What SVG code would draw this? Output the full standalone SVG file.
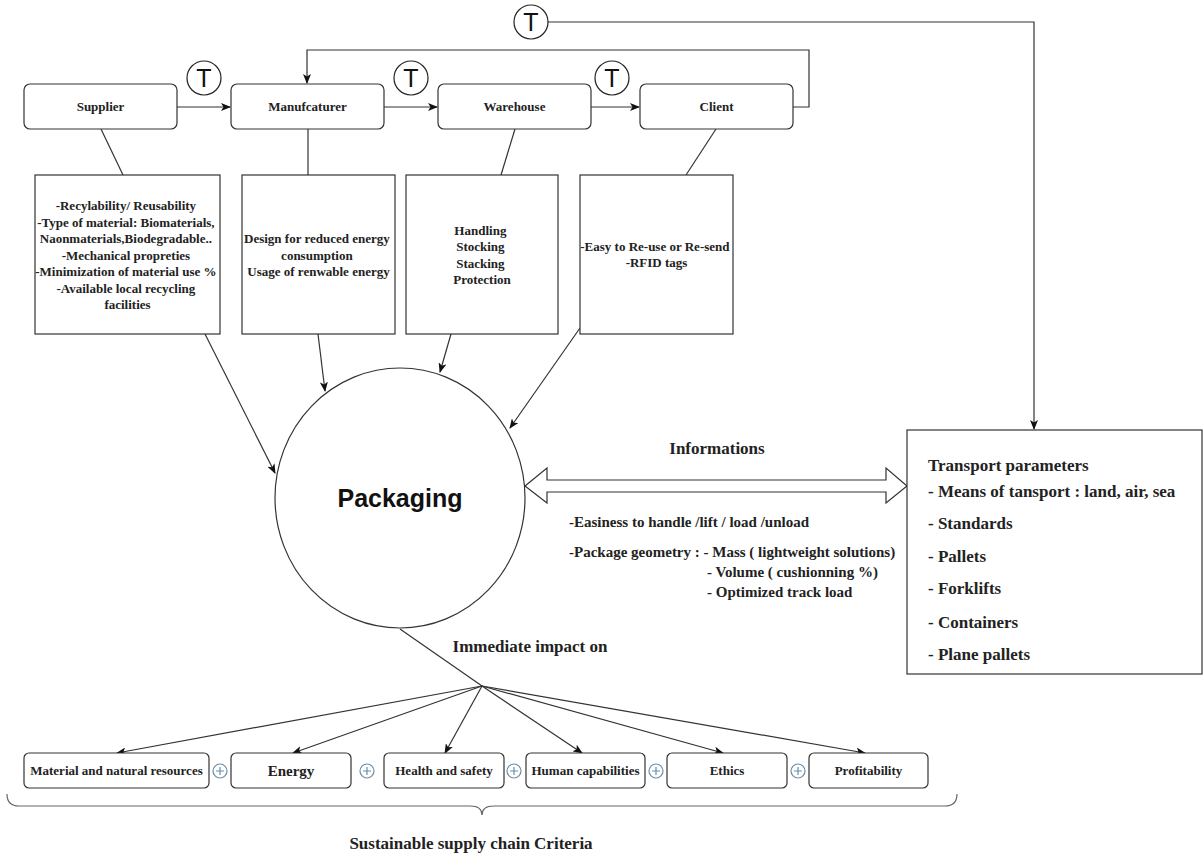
<svg xmlns="http://www.w3.org/2000/svg" width="1203" height="858" viewBox="0 0 1203 858">
<style>
.box{fill:#fff;stroke:#333;stroke-width:1.2}
.ln{fill:none;stroke:#333;stroke-width:1.2}
.t{font-family:"Liberation Serif","Times New Roman",serif;font-weight:bold;fill:#222}
.c{text-anchor:middle}
.tc{fill:#fff;stroke:#222;stroke-width:1.2}
.tt{font-family:"Liberation Sans",Arial,sans-serif;font-size:25px;fill:#111;text-anchor:middle}
.plus{fill:#fff;stroke:#6a8fa8;stroke-width:1.2}
</style>
<defs>
<marker id="ah" markerWidth="10" markerHeight="8" refX="9" refY="4" orient="auto" markerUnits="userSpaceOnUse">
<path d="M0,0 L10,4 L0,8 L2.5,4 Z" fill="#111"/>
</marker>
</defs>
<rect width="1203" height="858" fill="#fff"/>

<g id="connectors">
<line class="ln" x1="177" y1="107" x2="230" y2="107" marker-end="url(#ah)"/>
<line class="ln" x1="384" y1="107" x2="437" y2="107" marker-end="url(#ah)"/>
<line class="ln" x1="591" y1="107" x2="639" y2="107" marker-end="url(#ah)"/>
<path class="ln" d="M793,107 H809 V50 H307 V83" marker-end="url(#ah)"/>
<path class="ln" d="M547,22 H1034 V429" marker-end="url(#ah)"/>
<line class="ln" x1="101" y1="129" x2="123" y2="175"/>
<line class="ln" x1="308" y1="129" x2="308" y2="175"/>
<line class="ln" x1="515" y1="129" x2="501" y2="175"/>
<line class="ln" x1="716" y1="129" x2="686" y2="175"/>
<line class="ln" x1="205" y1="334" x2="275" y2="473" marker-end="url(#ah)"/>
<line class="ln" x1="318" y1="334" x2="325" y2="391" marker-end="url(#ah)"/>
<line class="ln" x1="451" y1="334" x2="440" y2="372" marker-end="url(#ah)"/>
<line class="ln" x1="580" y1="328" x2="510" y2="428" marker-end="url(#ah)"/>
<path class="ln" d="M525,486 L547,468 V480 H886 V468 L907,486 L886,503 V492 H547 V503 Z" fill="#fff"/>
<line class="ln" x1="400" y1="629" x2="482" y2="686"/>
<line class="ln" x1="482" y1="686" x2="117" y2="753" marker-end="url(#ah)"/>
<line class="ln" x1="482" y1="686" x2="293" y2="753" marker-end="url(#ah)"/>
<line class="ln" x1="482" y1="686" x2="445" y2="753" marker-end="url(#ah)"/>
<line class="ln" x1="482" y1="686" x2="582" y2="753" marker-end="url(#ah)"/>
<line class="ln" x1="482" y1="686" x2="723" y2="753" marker-end="url(#ah)"/>
<line class="ln" x1="482" y1="686" x2="865" y2="753" marker-end="url(#ah)"/>
<path d="M7,794 Q7,806 19,806 L470,806 Q482,806 482,815 Q482,806 494,806 L945,806 Q957,806 957,794" fill="none" stroke="#666" stroke-width="1.2"/>
</g>

<g id="t1"><circle class="tc" cx="204" cy="78" r="17"/><text class="tt" x="204" y="87">T</text></g>
<g id="t2"><circle class="tc" cx="411" cy="78" r="17"/><text class="tt" x="411" y="87">T</text></g>
<g id="t3"><circle class="tc" cx="612" cy="78" r="17"/><text class="tt" x="612" y="87">T</text></g>
<g id="t4"><circle class="tc" cx="531" cy="22" r="17"/><text class="tt" x="531" y="31">T</text></g>

<g id="supplier"><rect class="box" x="24" y="84" width="153" height="45" rx="6"/><text class="t c" x="100.5" y="111" font-size="13">Supplier</text></g>
<g id="manufacturer"><rect class="box" x="231" y="84" width="153" height="45" rx="6"/><text class="t c" x="307.5" y="111" font-size="13">Manufcaturer</text></g>
<g id="warehouse"><rect class="box" x="438" y="84" width="153" height="45" rx="6"/><text class="t c" x="514.5" y="111" font-size="13">Warehouse</text></g>
<g id="client"><rect class="box" x="640" y="84" width="153" height="45" rx="6"/><text class="t c" x="716.5" y="111" font-size="13">Client</text></g>

<g id="supplier-detail"><rect class="box" x="35" y="175" width="185" height="159"/>
<text class="t c" font-size="13">
<tspan x="127.5" y="210">-Recylability/ Reusability</tspan>
<tspan x="127.5" y="226.5">-Type of material: Biomaterials,</tspan>
<tspan x="127.5" y="243">Naonmaterials,Biodegradable..</tspan>
<tspan x="127.5" y="259.5">-Mechanical propreties</tspan>
<tspan x="127.5" y="276">-Minimization of material use %</tspan>
<tspan x="127.5" y="292.5">-Available local recycling</tspan>
<tspan x="127.5" y="309">facilities</tspan>
</text></g>
<g id="manufacturer-detail"><rect class="box" x="242" y="175" width="153" height="159"/>
<text class="t c" font-size="13">
<tspan x="318.5" y="243">Design for reduced energy</tspan>
<tspan x="318.5" y="259.5">consumption</tspan>
<tspan x="318.5" y="276">Usage of renwable energy</tspan>
</text></g>
<g id="warehouse-detail"><rect class="box" x="406" y="175" width="152" height="159"/>
<text class="t c" font-size="13">
<tspan x="482" y="234.5">Handling</tspan>
<tspan x="482" y="251">Stocking</tspan>
<tspan x="482" y="267.5">Stacking</tspan>
<tspan x="482" y="284">Protection</tspan>
</text></g>
<g id="client-detail"><rect class="box" x="580" y="175" width="153" height="159"/>
<text class="t c" font-size="13">
<tspan x="656.5" y="250.5">-Easy to Re-use or Re-send</tspan>
<tspan x="656.5" y="267">-RFID tags</tspan>
</text></g>

<g id="packaging"><ellipse class="box" cx="400" cy="498" rx="125" ry="130"/>
<text x="400" y="507" font-family="'Liberation Sans',Arial,sans-serif" font-weight="bold" font-size="25" text-anchor="middle" fill="#111">Packaging</text></g>

<g id="info-labels">
<text class="t c" x="717" y="454" font-size="17">Informations</text>
<text class="t" font-size="15">
<tspan x="569" y="527">-Easiness to handle /lift / load /unload</tspan>
<tspan x="569" y="557">-Package geometry : - Mass ( lightweight solutions)</tspan>
<tspan x="707" y="577">- Volume ( cushionning %)</tspan>
<tspan x="707" y="597">- Optimized track load</tspan>
</text>
</g>

<g id="transport"><rect class="box" x="907" y="430" width="295" height="244"/>
<text class="t" font-size="17">
<tspan x="928" y="471">Transport parameters</tspan>
<tspan x="928" y="497">- Means of tansport : land, air, sea</tspan>
<tspan x="928" y="529">- Standards</tspan>
<tspan x="928" y="562">- Pallets</tspan>
<tspan x="928" y="594">- Forklifts</tspan>
<tspan x="928" y="628">- Containers</tspan>
<tspan x="928" y="660">- Plane pallets</tspan>
</text></g>

<text class="t c" x="530" y="652" font-size="17">Immediate impact on</text>

<g id="material"><rect class="box" x="24" y="753" width="185" height="35" rx="5"/><text class="t c" x="116.5" y="775" font-size="13">Material and natural resources</text></g>
<g id="energy"><rect class="box" x="231" y="753" width="120" height="35" rx="5"/><text class="t c" x="291" y="776" font-size="15">Energy</text></g>
<g id="health"><rect class="box" x="384" y="753" width="120" height="35" rx="5"/><text class="t c" x="444" y="775" font-size="13">Health and safety</text></g>
<g id="human"><rect class="box" x="526" y="753" width="119" height="35" rx="5"/><text class="t c" x="585.5" y="775" font-size="13">Human capabilities</text></g>
<g id="ethics"><rect class="box" x="667" y="753" width="120" height="35" rx="5"/><text class="t c" x="727" y="775" font-size="13">Ethics</text></g>
<g id="profitability"><rect class="box" x="809" y="753" width="119" height="35" rx="5"/><text class="t c" x="868.5" y="775" font-size="13">Profitability</text></g>

<g id="plus-signs">
<g><circle class="plus" cx="220" cy="771" r="7"/><path d="M216,771 H224 M220,767 V775" stroke="#6a8fa8" stroke-width="1.2"/></g>
<g><circle class="plus" cx="367" cy="771" r="7"/><path d="M363,771 H371 M367,767 V775" stroke="#6a8fa8" stroke-width="1.2"/></g>
<g><circle class="plus" cx="514" cy="771" r="7"/><path d="M510,771 H518 M514,767 V775" stroke="#6a8fa8" stroke-width="1.2"/></g>
<g><circle class="plus" cx="656" cy="771" r="7"/><path d="M652,771 H660 M656,767 V775" stroke="#6a8fa8" stroke-width="1.2"/></g>
<g><circle class="plus" cx="798" cy="771" r="7"/><path d="M794,771 H802 M798,767 V775" stroke="#6a8fa8" stroke-width="1.2"/></g>
</g>

<text class="t c" x="471" y="849" font-size="17">Sustainable supply chain Criteria</text>
</svg>
